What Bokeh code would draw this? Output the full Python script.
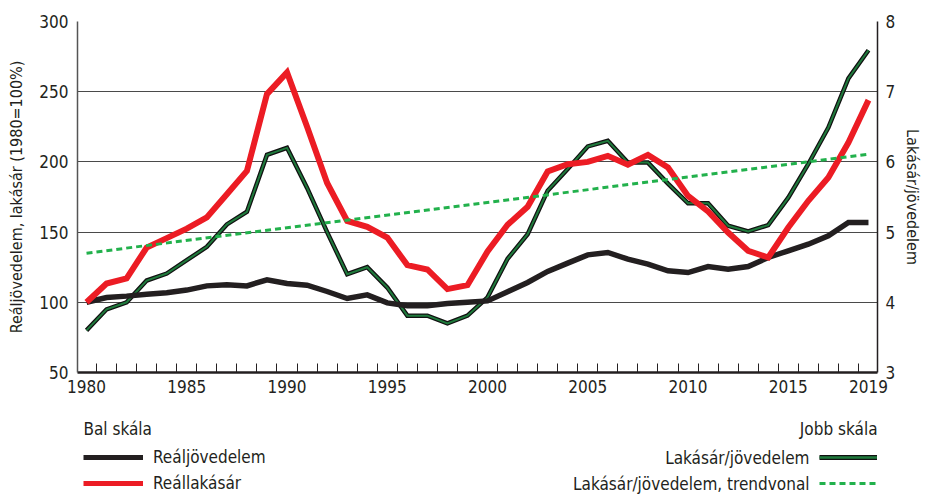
from bokeh.plotting import figure
from bokeh.layouts import column
from bokeh.models import Range1d, LinearAxis, FixedTicker, Legend, LegendItem, Label
from bokeh.embed import file_html
from bokeh.resources import INLINE

years = list(range(1980, 2020))
real_income = [100, 103.4, 104.4, 105.8, 106.8, 108.7, 111.7, 112.5, 111.7, 116.0,
               113.4, 112.2, 107.7, 102.7, 105.3, 99.6, 97.5, 97.5, 99.1, 100.1,
               101.0, 107.5, 114.1, 122.0, 127.9, 133.8, 135.5, 130.7, 127.2, 122.4,
               121.2, 125.5, 123.6, 125.5, 131.9, 136.7, 141.4, 147.4, 156.8, 156.8]
real_price = [100, 113.4, 117.0, 139.0, 145.7, 152.5, 160.4, 177.0, 193.6, 248.3,
              263.7, 225.0, 185.0, 158.0, 153.8, 146.1, 126.5, 123.4, 109.4, 112.2,
              136.2, 155.2, 168.0, 193.2, 198.4, 200.0, 204.3, 198.0, 205.0, 196.0,
              175.8, 164.7, 149.7, 136.7, 131.9, 153.3, 172.3, 188.9, 213.8, 244.0]
price_income_ratio = [3.60, 3.90, 4.00, 4.31, 4.41, 4.60, 4.79, 5.11, 5.29, 6.10,
                      6.20, 5.63, 5.00, 4.40, 4.50, 4.21, 3.81, 3.81, 3.70, 3.81,
                      4.07, 4.62, 4.97, 5.59, 5.90, 6.22, 6.30, 5.99, 5.99, 5.69,
                      5.41, 5.41, 5.09, 5.01, 5.10, 5.49, 5.97, 6.49, 7.19, 7.59]
trend_years = [1980, 2019]
trend_ratio = [4.70, 6.11]

left_ticks = [50, 100, 150, 200, 250, 300]
right_ticks = [3, 4, 5, 6, 7, 8]
year_ticks = [1980, 1985, 1990, 1995, 2000, 2005, 2010, 2015, 2019]
year_bounds = [y + 0.5 for y in range(1980, 2019)]

FONT = "DejaVu Sans Condensed"
INK = "#231f20"
RED = "#ec1c24"
GREEN = "#1f7a3c"
OUTLINE = "#111111"
TREND = "#22b14c"

W = 925
p = figure(width=W, height=404, output_backend="svg", toolbar_location=None,
           x_range=Range1d(1979.55, 2019.45), y_range=Range1d(50, 300),
           min_border_left=77, min_border_right=47, min_border_top=21, min_border_bottom=32)
p.outline_line_color = None
p.xgrid.grid_line_color = None
p.ygrid.ticker = FixedTicker(ticks=left_ticks)
p.ygrid.grid_line_color = "#4a4a4a"
p.ygrid.grid_line_width = 1

p.extra_y_ranges = {"ratio": Range1d(3, 8)}

# bottom axis
xa = p.xaxis[0]
xa.ticker = FixedTicker(ticks=year_ticks, minor_ticks=year_bounds)
xa.major_tick_line_color = None
xa.major_tick_in = 0
xa.major_tick_out = 0
xa.minor_tick_in = 9
xa.minor_tick_out = 0
xa.minor_tick_line_color = INK
xa.axis_line_color = INK
xa.axis_line_width = 2.5
xa.major_label_standoff = 7
xa.major_label_text_font = FONT
xa.major_label_text_font_size = "17px"
xa.major_label_text_color = INK

# left axis
ya = p.yaxis[0]
ya.ticker = FixedTicker(ticks=left_ticks)
ya.major_tick_line_color = None
ya.minor_tick_line_color = None
ya.major_tick_in = 0
ya.major_tick_out = 0
ya.minor_tick_in = 0
ya.minor_tick_out = 0
ya.axis_line_color = "#555555"
ya.axis_line_width = 1.5
ya.major_label_standoff = 9
ya.major_label_text_font = FONT
ya.major_label_text_font_size = "17px"
ya.major_label_text_color = INK
ya.axis_label = "Reáljövedelem, lakásár (1980=100%)"
ya.axis_label_text_font = FONT
ya.axis_label_text_font_size = "16px"
ya.axis_label_text_font_style = "normal"
ya.axis_label_text_color = INK
ya.axis_label_standoff = 10

# right axis
ra = LinearAxis(y_range_name="ratio", ticker=FixedTicker(ticks=right_ticks))
ra.major_tick_line_color = None
ra.minor_tick_line_color = None
ra.major_tick_in = 0
ra.major_tick_out = 0
ra.minor_tick_in = 0
ra.minor_tick_out = 0
ra.axis_line_color = INK
ra.axis_line_width = 1.5
ra.major_label_standoff = 8
ra.major_label_text_font = FONT
ra.major_label_text_font_size = "17px"
ra.major_label_text_color = INK
ra.axis_label = "Lakásár/jövedelem"
ra.axis_label_text_font = FONT
ra.axis_label_text_font_size = "16px"
ra.axis_label_text_font_style = "normal"
ra.axis_label_text_color = INK
ra.axis_label_standoff = 5
p.add_layout(ra, "right")

# series
g_out = p.line(years, price_income_ratio, y_range_name="ratio", line_color=OUTLINE,
               line_width=4.5, line_join="miter")
g_in = p.line(years, price_income_ratio, y_range_name="ratio", line_color=GREEN,
              line_width=2, line_join="miter")
r_inc = p.line(years, real_income, line_color=INK, line_width=5.5, line_join="miter")
r_price = p.line(years, real_price, line_color=RED, line_width=6, line_join="miter")
r_trend = p.line(trend_years, trend_ratio, y_range_name="ratio", line_color=TREND,
                 line_width=3, line_dash="6 4")

# legend strip below the chart (its frame is aligned with the chart's frame)
q = figure(width=W, height=90, output_backend="svg", toolbar_location=None,
           x_axis_location=None, y_axis_location=None,
           x_range=Range1d(0, 1), y_range=Range1d(0, 1),
           min_border_left=77, min_border_right=47, min_border_top=0, min_border_bottom=0)
q.outline_line_color = None
q.xgrid.grid_line_color = None
q.ygrid.grid_line_color = None

# legend-only renderers (single off-range point, nothing drawn in the strip)
k_inc = q.line([-1], [-1], line_color=INK, line_width=5)
k_price = q.line([-1], [-1], line_color=RED, line_width=5)
k_gout = q.line([-1], [-1], line_color=OUTLINE, line_width=5)
k_gin = q.line([-1], [-1], line_color=GREEN, line_width=2.5)
k_trend = q.line([-1], [-1], line_color=TREND, line_width=3, line_dash="6 4")

common = dict(padding=0, margin=0, border_line_color=None, background_fill_alpha=0,
              glyph_width=60, glyph_height=20, label_height=20, spacing=6,
              label_text_font=FONT, label_text_font_size="17px", label_text_color=INK)

leg_left = Legend(items=[LegendItem(label="Reáljövedelem", renderers=[k_inc]),
                         LegendItem(label="Reállakásár", renderers=[k_price])],
                  location=(6, 1), label_standoff=10, **common)
# right-hand key: line samples sit to the right of their (right-aligned) texts
leg_right = Legend(items=[LegendItem(label=" ", renderers=[k_gout, k_gin]),
                          LegendItem(label=" ", renderers=[k_trend])],
                   location=(742, 1), label_standoff=0, **common)
q.add_layout(leg_left)
q.add_layout(leg_right)

txt = dict(x_units="screen", y_units="screen", text_font=FONT, text_font_size="17px",
           text_color=INK, text_baseline="middle")
q.add_layout(Label(x=6, y=66, text="Bal skála", text_align="left", **txt))
q.add_layout(Label(x=800, y=66, text="Jobb skála", text_align="right", **txt))
q.add_layout(Label(x=732, y=37, text="Lakásár/jövedelem", text_align="right", **txt))
q.add_layout(Label(x=732, y=11, text="Lakásár/jövedelem, trendvonal", text_align="right", **txt))

layout = column(p, q, spacing=0)
open("out.html", "w").write(file_html(layout, INLINE))
